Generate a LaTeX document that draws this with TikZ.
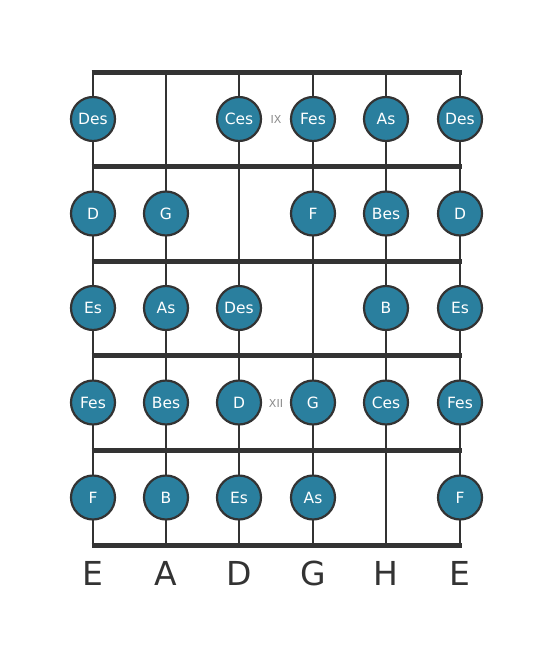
\documentclass[tikz,border=0pt]{standalone}
\usepackage{fontspec}
\setmainfont{DejaVu Sans}
\definecolor{dotfill}{HTML}{2A7F9E}
\definecolor{ink}{HTML}{333333}
\definecolor{numgray}{HTML}{8A8A8A}
\begin{document}
\begin{tikzpicture}[x=1pt,y=-1pt,
  fret/.style={draw=ink,line width=5pt},
  string/.style={draw=ink,line width=2.6pt},
  note/.style={circle,draw=ink,line width=2.2pt,fill=dotfill,minimum size=44pt,inner sep=0pt,text=white,font=\fontsize{15.5}{18}\selectfont},
  roman/.style={text=numgray,font=\fontsize{11}{13}\selectfont},
  sname/.style={text=ink,font=\fontsize{33}{38}\selectfont}]
\useasboundingbox (0,0) rectangle (553,656);
% strings
\foreach \x/\n in {93/s1,166/s2,239/s3,313/s4,386/s5,460/s6}{
  \coordinate (\n t) at (\x,72);
  \coordinate (\n b) at (\x,545);
  \draw[string] (\n t) -- (\n b);
}
% frets
\foreach \y/\n in {72/f0,166/f1,261/f2,355/f3,450/f4,545/f5}{
  \coordinate (\n l) at (91.5,\y);
  \coordinate (\n r) at (461.5,\y);
  \draw[fret] (\n l) -- (\n r);
}
% notes
\foreach \x/\y/\t/\n in {
 93/119/Des/a1, 239/119/Ces/a3, 313/119/Fes/a4, 386/119/As/a5, 460/119/Des/a6,
 93/213.5/D/b1, 166/213.5/G/b2, 313/213.5/F/b4, 386/213.5/Bes/b5, 460/213.5/D/b6,
 93/308/Es/c1, 166/308/As/c2, 239/308/Des/c3, 386/308/B/c5, 460/308/Es/c6,
 93/402.5/Fes/d1, 166/402.5/Bes/d2, 239/402.5/D/d3, 313/402.5/G/d4, 386/402.5/Ces/d5, 460/402.5/Fes/d6,
 93/497.5/F/e1, 166/497.5/B/e2, 239/497.5/Es/e3, 313/497.5/As/e4, 460/497.5/F/e6}{
  \node[note] (\n) at (\x,\y) {\t};
}
\node[roman] (ix) at (276,119.5) {IX};
\node[roman] (xii) at (276,403) {XII};
% string names
\foreach \x/\t/\n in {93/E/l1,166/A/l2,239/D/l3,313/G/l4,386/H/l5,460/E/l6}{
  \node[sname] (\n) at (\x,573) {\t};
}
\end{tikzpicture}
\end{document}
